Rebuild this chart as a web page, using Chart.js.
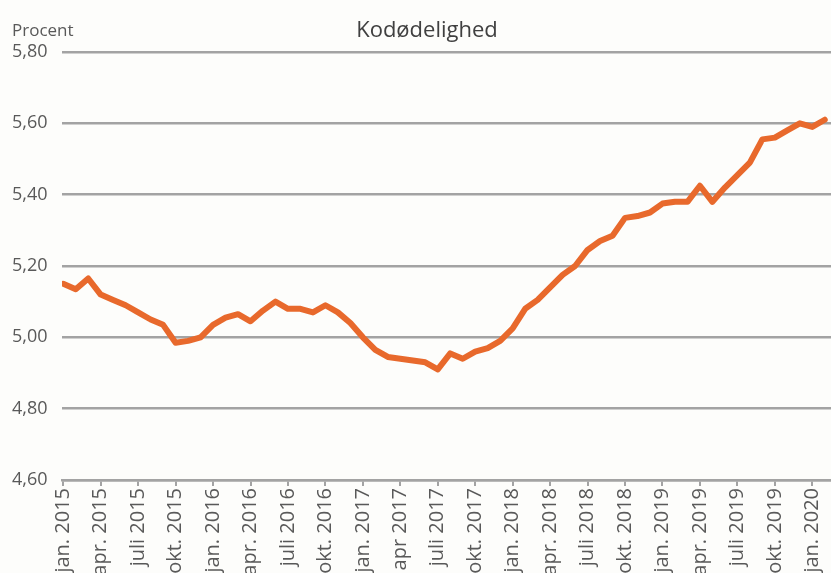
<!DOCTYPE html>
<html><head><meta charset="utf-8">
<script src="https://cdn.jsdelivr.net/npm/chart.js@4.4.1/dist/chart.umd.min.js"></script>
<style>
html,body{margin:0;padding:0;background:#fdfdfb;overflow:hidden}
#wrap{position:relative;width:831px;height:573px;background:#fdfdfb}
#c{position:absolute;left:0;top:0}
.t{position:absolute;font-family:"Open Sans",sans-serif;white-space:nowrap;line-height:normal}
#title{left:0;width:854px;text-align:center;top:13px;font-size:22px;color:#404040}
#unit{left:12px;top:18px;font-size:17px;color:#595959}
</style></head><body>
<div id="wrap"><canvas id="c" width="831" height="573"></canvas>
<div class="t" id="title">Kodødelighed</div><div class="t" id="unit">Procent</div></div>
<script>
const tickLabels = ["jan. 2015","apr. 2015","juli 2015","okt. 2015","jan. 2016","apr. 2016","juli 2016","okt. 2016","jan. 2017","apr 2017","juli 2017","okt. 2017","jan. 2018","apr. 2018","juli 2018","okt. 2018","jan. 2019","apr. 2019","juli 2019","okt. 2019","jan. 2020"];
const tickMonths = [0,3,6,9,12,15,18,21,24,27,30,33,36,39,42,45,48,51,54,57,60];
const values = [
 5.15, 5.135, 5.165, 5.12, 5.105, 5.09, 5.07, 5.05, 5.035, 4.985,
 4.99, 5.00, 5.035, 5.055, 5.065, 5.045, 5.075, 5.10, 5.08, 5.08,
 5.07, 5.09, 5.07, 5.04, 5.00, 4.965, 4.945, 4.94, 4.935, 4.93,
 4.91, 4.955, 4.94, 4.96, 4.97, 4.99, 5.025, 5.08, 5.105, 5.14,
 5.175, 5.20, 5.245, 5.27, 5.285, 5.335, 5.34, 5.35, 5.375, 5.38,
 5.38, 5.425, 5.38, 5.42, 5.455, 5.49, 5.555, 5.56, 5.58, 5.60,
 5.59, 5.61
];
const yMin = 4.6, yMax = 5.8, yStep = 0.2;

const gridColor = '#a3a3a3';
const textColor = '#595959';

new Chart(document.getElementById('c'), {
  type: 'line',
  data: {
    datasets: [{
      data: values.map((v, i) => ({x: i, y: v})),
      borderColor: '#e8692c',
      borderWidth: 6,
      pointRadius: 0,
      tension: 0,
      borderJoinStyle: 'round',
      borderCapStyle: 'round',
      fill: false
    }]
  },
  options: {
    responsive: false,
    animation: false,
    events: [],
    layout: {padding: {left: 12, top: 52, right: 0, bottom: 0}},
    plugins: {legend: {display: false}, tooltip: {enabled: false}, title: {display: false}},
    scales: {
      x: {
        type: 'linear',
        min: -0.1,
        max: 61.5,
        afterBuildTicks: s => { s.ticks = tickMonths.map(v => ({value: v})); },
        afterFit: s => { s.height = 93; s.paddingLeft = 0; s.paddingRight = 0; },
        ticks: {
          autoSkip: false,
          minRotation: 90,
          maxRotation: 90,
          padding: 2,
          color: textColor,
          font: {family: '"Open Sans", sans-serif', size: 20},
          callback: v => { const k = tickMonths.indexOf(v); return k >= 0 ? tickLabels[k] : ''; }
        },
        grid: {drawOnChartArea: false, drawTicks: true, tickLength: 6, color: gridColor, lineWidth: 2},
        border: {display: true, color: gridColor, width: 2.5}
      },
      y: {
        min: yMin,
        max: yMax,
        afterFit: s => { s.width = 50; },
        ticks: {
          stepSize: yStep,
          crossAlign: 'far',
          padding: 0,
          color: textColor,
          font: {family: '"Open Sans", sans-serif', size: 18},
          callback: v => v.toFixed(2).replace('.', ',')
        },
        grid: {drawTicks: false, color: gridColor, lineWidth: 2.5},
        border: {display: false}
      }
    }
  }
});
</script>
</body></html>
